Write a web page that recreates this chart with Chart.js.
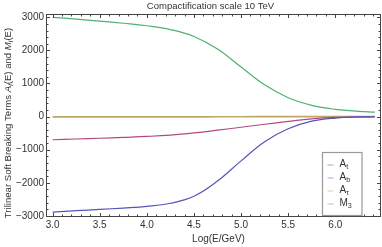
<!DOCTYPE html>
<html><head><meta charset="utf-8">
<script src="https://cdn.jsdelivr.net/npm/chart.js@4/dist/chart.umd.min.js"></script>
<style>html,body{margin:0;padding:0;background:#fff}#wrap{width:382px;height:247px}</style>
</head><body><div id="wrap"><canvas id="c" width="382" height="247"></canvas></div>
<script>
const energies = [3.0, 3.25, 3.5, 3.75, 4.0, 4.25, 4.5, 4.75, 5.0, 5.25, 5.5, 5.75, 6.0, 6.25, 6.42];
const At   = [-2890, -2845, -2805, -2765, -2715, -2620, -2410, -1950, -1340, -760, -370, -140, -45, -12, -5];
const Ab   = [-700, -678, -655, -628, -600, -560, -495, -412, -322, -232, -145, -68, -26, -10, -6];
const Atau = [-10, -10, -9, -9, -8, -8, -7, -6, -5, -4, -3, -2, -1, -1, 0];
const M3   = [3000, 2945, 2885, 2820, 2745, 2630, 2420, 2040, 1500, 960, 570, 340, 220, 160, 135];
const seriesNames = ['A_t', 'A_b', 'A_τ', 'M_3'];
const seriesColors = ['#5555b8', '#b04a80', '#bca96a', '#4fb070'];
const xTicks = [3.0, 3.5, 4.0, 4.5, 5.0, 5.5, 6.0];
const yTicks = [-3000, -2000, -1000, 0, 1000, 2000, 3000];
const titleText = 'Compactification scale 10 TeV';
const xLabel = 'Log(E/GeV)';

const FONT = '"Liberation Sans", Arial, sans-serif';
const allSeries = [At, Ab, Atau, M3];
const datasets = allSeries.map((s, i) => ({
  label: seriesNames[i],
  data: energies.map((x, j) => ({x: x, y: s[j]})),
  borderColor: seriesColors[i],
  backgroundColor: seriesColors[i],
  borderWidth: i === 2 ? 1.7 : 1.2,
  pointRadius: 0,
  tension: 0.4,
  fill: false
}));

function drawSubText(ctx, x, y, parts, size) {
  let cx = x;
  for (const p of parts) {
    const fs = p.sub ? size * 0.72 : size;
    ctx.font = (p.italic ? 'italic ' : '') + fs + 'px ' + FONT;
    ctx.fillText(p.t, cx, y + (p.sub ? size * 0.3 : 0));
    cx += ctx.measureText(p.t).width;
  }
  return cx - x;
}
function measureSub(ctx, parts, size) {
  let w = 0;
  for (const p of parts) {
    const fs = p.sub ? size * 0.72 : size;
    ctx.font = (p.italic ? 'italic ' : '') + fs + 'px ' + FONT;
    w += ctx.measureText(p.t).width;
  }
  return w;
}

const decor = {
  id: 'decor',
  afterDraw(chart) {
    const ctx = chart.ctx, a = chart.chartArea;
    const xs = chart.scales.x, ys = chart.scales.y;
    ctx.save();
    ctx.strokeStyle = '#444';
    ctx.lineWidth = 1;
    ctx.strokeRect(Math.round(a.left) + 0.5, Math.round(a.top) + 0.5, Math.round(a.right - a.left) - 1, Math.round(a.bottom - a.top) - 1);
    ctx.beginPath();
    for (let v = 2.9; v <= 6.5; v += 0.1) {
      const vv = Math.round(v * 10) / 10;
      if (vv < xs.min || vv > xs.max) continue;
      const px = Math.round(xs.getPixelForValue(vv)) + 0.5;
      const major = Math.abs(vv * 2 - Math.round(vv * 2)) < 1e-6;
      const len = major ? 4 : 2.5;
      ctx.moveTo(px, a.bottom); ctx.lineTo(px, a.bottom - len);
      ctx.moveTo(px, a.top); ctx.lineTo(px, a.top + len);
    }
    for (let v = -3000; v <= 3100; v += 200) {
      if (v < ys.min || v > ys.max) continue;
      const py = Math.round(ys.getPixelForValue(v)) + 0.5;
      const major = v % 1000 === 0;
      const len = major ? 4 : 2.5;
      ctx.moveTo(a.left, py); ctx.lineTo(a.left + len, py);
      ctx.moveTo(a.right, py); ctx.lineTo(a.right - len, py);
    }
    ctx.stroke();
    ctx.fillStyle = '#333';
    ctx.font = '10px ' + FONT;
    ctx.textAlign = 'center'; ctx.textBaseline = 'middle';
    xTicks.forEach(v => {
      ctx.fillText(v.toFixed(1), xs.getPixelForValue(v), a.bottom + 8);
    });
    ctx.textAlign = 'right';
    yTicks.forEach(v => {
      const s = v < 0 ? '\u2212' + Math.abs(v) : String(v);
      ctx.fillText(s, a.left - 2, ys.getPixelForValue(v));
    });
    ctx.font = '9.5px ' + FONT;
    ctx.textAlign = 'center';
    ctx.fillText(titleText, (a.left + a.right) / 2 - 3, 6);
    ctx.font = '10px ' + FONT;
    ctx.fillText(xLabel, (a.left + a.right) / 2 + 5, 239);
    const yParts = [
      {t: 'Trilinear Soft Breaking Terms '},
      {t: 'A', italic: true}, {t: 'i', sub: true, italic: true}, {t: '(E) and '},
      {t: 'M', italic: true}, {t: 'i', sub: true, italic: true}, {t: '(E)'}
    ];
    const ysz = 9.6;
    const w = measureSub(ctx, yParts, ysz);
    ctx.save();
    ctx.translate(8, 123);
    ctx.rotate(-Math.PI / 2);
    ctx.textAlign = 'left';
    drawSubText(ctx, -w / 2, 0, yParts, ysz);
    ctx.restore();
    const lx = 322.5, ly = 152.5, lw = 39.5, lh = 63;
    ctx.fillStyle = '#fff';
    ctx.fillRect(lx, ly, lw, lh);
    ctx.strokeStyle = '#999';
    ctx.lineWidth = 1.2;
    ctx.strokeRect(lx, ly, lw, lh);
    const rows = [
      [{t: 'A'}, {t: 't', sub: true}],
      [{t: 'A'}, {t: 'b', sub: true}],
      [{t: 'A'}, {t: 'τ', sub: true}],
      [{t: 'M'}, {t: '3', sub: true}]
    ];
    ctx.textAlign = 'left';
    rows.forEach((r, i) => {
      const cy = ly + 12 + i * 13;
      ctx.strokeStyle = seriesColors[i];
      ctx.globalAlpha = 0.55;
      ctx.lineWidth = 1;
      ctx.beginPath(); ctx.moveTo(lx + 5, cy + 0.5); ctx.lineTo(lx + 11, cy + 0.5); ctx.stroke();
      ctx.globalAlpha = 1;
      ctx.fillStyle = '#333';
      drawSubText(ctx, lx + 17, cy, r, 10);
    });
    ctx.restore();
  }
};

new Chart(document.getElementById('c'), {
  type: 'line',
  data: { datasets },
  options: {
    responsive: false,
    animation: false,
    events: [],
    layout: { padding: { top: 14, right: 1, left: 0, bottom: 0 } },
    plugins: { legend: { display: false }, tooltip: { enabled: false }, title: { display: false } },
    scales: {
      x: {
        type: 'linear', min: 2.93, max: 6.485,
        grid: { display: false, drawTicks: false },
        border: { display: false },
        ticks: { display: false },
        afterFit(s) { s.height = 30; }
      },
      y: {
        type: 'linear', min: -3035, max: 3100,
        grid: { display: false, drawTicks: false },
        border: { display: false },
        ticks: { display: false },
        afterFit(s) { s.width = 46; }
      }
    }
  },
  plugins: [decor]
});
</script>
</body></html>
